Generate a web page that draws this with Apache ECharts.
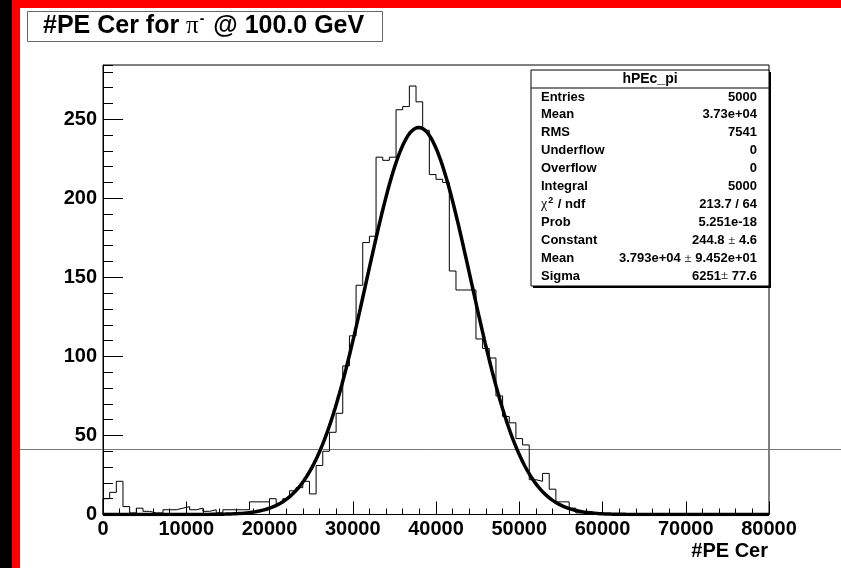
<!DOCTYPE html>
<html>
<head>
<meta charset="utf-8">
<script src="https://cdn.jsdelivr.net/npm/echarts@6/dist/echarts.min.js"></script>
<style>
  html, body { margin: 0; padding: 0; background: #ffffff; }
  #chart { width: 841px; height: 568px; }
</style>
</head>
<body>
<div id="chart"></div>
<script>
// hPEc_pi : number of Cherenkov photo-electrons, 100 bins of 800 PE over [0, 80000]
const xMin = 0;
const xMax = 80000;
const binWidth = 800;
const binCounts = [
  10, 14, 21, 5, 1, 4, 2, 1, 1, 3,
  3, 4, 5, 3, 4, 2, 3, 1, 3, 3,
  3, 3, 8, 8, 8, 10, 7, 10, 15, 17,
  21, 13, 31, 40, 52, 64, 94, 113, 145, 172,
  176, 226, 224, 226, 256, 258, 271, 261, 243, 215,
  212, 210, 154, 142, 142, 142, 111, 105, 99, 75,
  62, 58, 48, 44, 22, 21, 26, 16, 8, 8,
  4, 1, 1, 0, 0, 0, 0, 0, 0, 0,
  0, 0, 0, 0, 0, 0, 0, 0, 0, 0,
  0, 0, 0, 0, 0, 0, 0, 0, 0, 0
];

// Gaussian fit parameters (as listed in the statistics box)
const fitConstant = 244.8;
const fitMean = 3.793e4;
const fitSigma = 6251;

// axis ranges and tick spacing
const yMax = 284.3;
const xMajorStep = 10000;
const yMajorStep = 50;
const yMinorStep = 10;

// statistics box rows
const statTitle = 'hPEc_pi';
const statLabels = ['Entries', 'Mean', 'RMS', 'Underflow', 'Overflow', 'Integral',
  '{g|χ}{sup|2}{b| / ndf}', 'Prob', 'Constant', 'Mean', 'Sigma'];
const statValues = ['5000', '3.73e+04', '7541', '0', '0', '5000', '213.7 / 64',
  '5.251e-18', '244.8 {pm|±} 4.6', '3.793e+04 {pm|±} 9.452e+01', '6251{pm|±} 77.6'];

const FONT = '"Liberation Sans", Arial, Helvetica, sans-serif';
const SYMBOL_FONT = '"Liberation Serif", "DejaVu Serif", serif';

// step outline of the histogram: left edge of each bin, closed at both ends
const histPoints = [[xMin, 0]];
binCounts.forEach((c, i) => histPoints.push([xMin + i * binWidth, c]));
histPoints.push([xMax, 0]);

// fitted Gaussian sampled across the full axis range
const fitPoints = [];
for (let x = xMin; x <= xMax; x += 100) {
  const t = (x - fitMean) / fitSigma;
  fitPoints.push([x, fitConstant * Math.exp(-0.5 * t * t)]);
}

const chart = echarts.init(document.getElementById('chart'), null, { renderer: 'canvas' });

const gridBox = { left: 103, top: 65, width: 666, height: 449.5 };

// statistics box drawn as a graphic group
const statX = 531, statY = 70, statW = 238, statH = 216;
const rowTop = 97, rowStep = 17.9;
const statChildren = [
  { type: 'rect', shape: { x: statX + 2, y: statY + 2, width: statW, height: statH },
    style: { fill: '#000' } },
  { type: 'rect', shape: { x: statX, y: statY, width: statW, height: statH },
    style: { fill: '#fff', stroke: '#000', lineWidth: 1 } },
  { type: 'line', shape: { x1: statX, y1: statY + 18, x2: statX + statW, y2: statY + 18 },
    style: { stroke: '#000', lineWidth: 1 } },
  { type: 'text', x: statX + statW / 2, y: statY + 9,
    style: { text: statTitle, font: 'bold 14px ' + FONT, fill: '#000',
      align: 'center', verticalAlign: 'middle' } }
];
const rich = {
  b: { font: 'bold 13px ' + FONT, fill: '#000' },
  g: { font: '14px ' + SYMBOL_FONT, fill: '#000' },
  sup: { font: 'bold 9px ' + FONT, fill: '#000', padding: [0, 1, 7, 1] },
  pm: { font: '13px ' + SYMBOL_FONT, fill: '#000' }
};
statLabels.forEach((lab, i) => {
  const y = rowTop + i * rowStep;
  const txt = lab.indexOf('{') === 0 ? lab : '{b|' + lab + '}';
  statChildren.push({ type: 'text', x: statX + 10, y: y,
    style: { text: txt, rich: rich, align: 'left', verticalAlign: 'middle' } });
  const val = statValues[i].split(/(\{pm\|±\})/).map(s => s.indexOf('{pm') === 0 ? s : (s ? '{b|' + s + '}' : '')).join('');
  statChildren.push({ type: 'text', x: statX + statW - 12, y: y,
    style: { text: val, rich: rich, align: 'right', verticalAlign: 'middle' } });
});

const option = {
  backgroundColor: '#ffffff',
  animation: false,
  grid: { left: gridBox.left, top: gridBox.top, width: gridBox.width, height: gridBox.height,
    show: true, borderColor: '#000', borderWidth: 1, backgroundColor: 'transparent' },
  xAxis: {
    type: 'value', min: xMin, max: xMax, interval: xMajorStep,
    axisLine: { show: true, lineStyle: { color: '#000', width: 1 } },
    axisTick: { show: true, inside: true, length: 13, lineStyle: { color: '#000', width: 1 } },
    minorTick: { show: true, splitNumber: 5, length: 6, lineStyle: { color: '#000', width: 1 } },
    splitLine: { show: false },
    axisLabel: { show: true, margin: 5, color: '#000', fontFamily: FONT, fontWeight: 'bold',
      fontSize: 20, formatter: v => String(v) }
  },
  yAxis: [
    {
      type: 'value', min: 0, max: yMax, interval: yMajorStep, position: 'left',
      axisLine: { show: true, lineStyle: { color: '#000', width: 1 } },
      axisTick: { show: true, inside: true, length: 20, lineStyle: { color: '#000', width: 1 } },
      splitLine: { show: false },
      axisLabel: { show: true, margin: 6, color: '#000', fontFamily: FONT, fontWeight: 'bold',
        fontSize: 20, showMaxLabel: false, formatter: v => String(v) }
    },
    {
      type: 'value', min: 0, max: yMax, interval: yMinorStep, position: 'left', offset: 0,
      axisLine: { show: false },
      axisTick: { show: true, inside: true, length: 10, lineStyle: { color: '#000', width: 1 } },
      splitLine: { show: false },
      axisLabel: { show: false }
    }
  ],
  series: [
    {
      name: 'hPEc_pi', type: 'line', step: 'end', data: histPoints,
      showSymbol: false, symbol: 'none',
      lineStyle: { color: '#000', width: 1 }, z: 2
    },
    {
      name: 'gaus', type: 'line', data: fitPoints, smooth: false,
      showSymbol: false, symbol: 'none',
      lineStyle: { color: '#000', width: 3.5 }, z: 3
    }
  ],
  graphic: [
    // frame colours around the canvas
    { type: 'rect', shape: { x: 0, y: 0, width: 12, height: 568 }, style: { fill: '#000' } },
    { type: 'rect', shape: { x: 12, y: 0, width: 8, height: 568 }, style: { fill: '#ff0000' } },
    { type: 'rect', shape: { x: 12, y: 0, width: 829, height: 8 }, style: { fill: '#ff0000' } },
    // thin reference line across the pad
    { type: 'line', shape: { x1: 20, y1: 449.5, x2: 841, y2: 449.5 },
      style: { stroke: '#777', lineWidth: 1 } },
    // title box
    { type: 'rect', shape: { x: 27.5, y: 11.5, width: 355, height: 30 },
      style: { fill: '#fff', stroke: '#666', lineWidth: 1 } },
    { type: 'text', x: 43, y: 26.5,
      style: {
        text: '{a|#PE Cer for }{p|π}{s|-}{a| @ 100.0 GeV}',
        verticalAlign: 'middle',
        rich: {
          a: { font: 'bold 25px ' + FONT, fill: '#000' },
          p: { font: '25px ' + SYMBOL_FONT, fill: '#000' },
          s: { font: 'bold 14px ' + FONT, fill: '#000', padding: [0, 2, 15, 1] }
        }
      } },
    // x-axis title
    { type: 'text', x: 768, y: 551,
      style: { text: '#PE Cer', font: 'bold 20px ' + FONT, fill: '#000',
        align: 'right', verticalAlign: 'middle' } },
    { type: 'group', children: statChildren }
  ]
};

chart.setOption(option);
</script>
</body>
</html>
